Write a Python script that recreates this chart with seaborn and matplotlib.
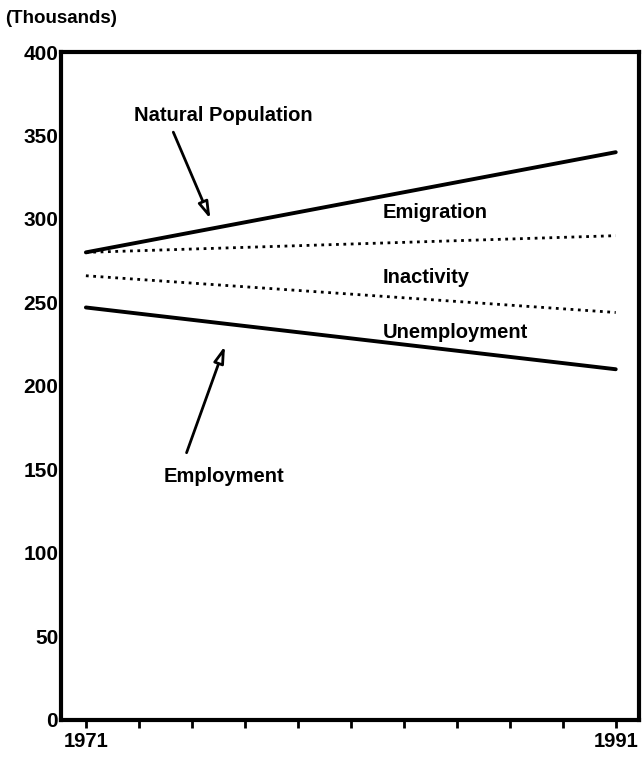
import matplotlib
matplotlib.use("Agg")
import matplotlib.pyplot as plt
import seaborn as sns
import pandas as pd

years = [1971, 1991]
natural_population = [280, 340]
emigration = [280, 290]
inactivity = [266, 244]
employment = [247, 210]

year_ticks = list(range(1971, 1992, 2))
year_labels = ["1971"] + [""] * 9 + ["1991"]
y_ticks = [0, 50, 100, 150, 200, 250, 300, 350, 400]

sns.set_style("white")
plt.rcParams['font.family'] = ['Liberation Sans', 'DejaVu Sans']
plt.rcParams['font.weight'] = 'bold'
plt.rcParams['text.color'] = 'black'
plt.rcParams['xtick.color'] = 'black'
plt.rcParams['ytick.color'] = 'black'

fig = plt.figure(figsize=(6.42, 7.65), dpi=100)
ax = fig.add_axes([0.095, 0.059, 0.9, 0.873])

series = [
    (natural_population, '-', 2.8),
    (emigration, ':', 2.0),
    (inactivity, ':', 2.0),
    (employment, '-', 2.8),
]
for vals, ls, lw in series:
    df = pd.DataFrame({'year': years, 'value': vals})
    sns.lineplot(data=df, x='year', y='value', ax=ax, color='black',
                 linestyle=ls, linewidth=lw)

ax.set_xlim(1970.06, 1991.87)
ax.set_ylim(0, 400)
ax.set_xticks(year_ticks)
ax.set_xticklabels(year_labels)
ax.set_yticks(y_ticks)
ax.set_xlabel('')
ax.set_ylabel('')
ax.tick_params(axis='x', direction='out', length=6, width=2, labelsize=14.5, pad=3, bottom=True)
ax.tick_params(axis='y', length=0, labelsize=15, pad=2)
for lab in ax.get_xticklabels() + ax.get_yticklabels():
    lab.set_fontweight('bold')
for sp in ax.spines.values():
    sp.set_linewidth(3)
    sp.set_color('black')

fig.text(0.008, 0.976, '(Thousands)', fontsize=13.5, fontweight='bold', va='center')

# arrows with open heads
arrow = dict(arrowstyle='-|>,head_length=1.0,head_width=0.3', fc='white', ec='black',
             lw=2, shrinkA=0, shrinkB=0)
ax.annotate('', xy=(1975.7, 300), xytext=(1974.3, 352), arrowprops=arrow)
ax.annotate('', xy=(1976.25, 224), xytext=(1974.8, 160), arrowprops=arrow)

ax.text(1976.2, 362, 'Natural Population', ha='center', va='center', fontsize=14.5, fontweight='bold')
ax.text(1976.2, 146, 'Employment', ha='center', va='center', fontsize=14.5, fontweight='bold')
ax.text(1982.2, 304, 'Emigration', fontsize=14.5, fontweight='bold', va='center')
ax.text(1982.2, 265, 'Inactivity', fontsize=14.5, fontweight='bold', va='center')
ax.text(1982.2, 232, 'Unemployment', fontsize=14.5, fontweight='bold', va='center')

fig.savefig('out.png', dpi=100)
